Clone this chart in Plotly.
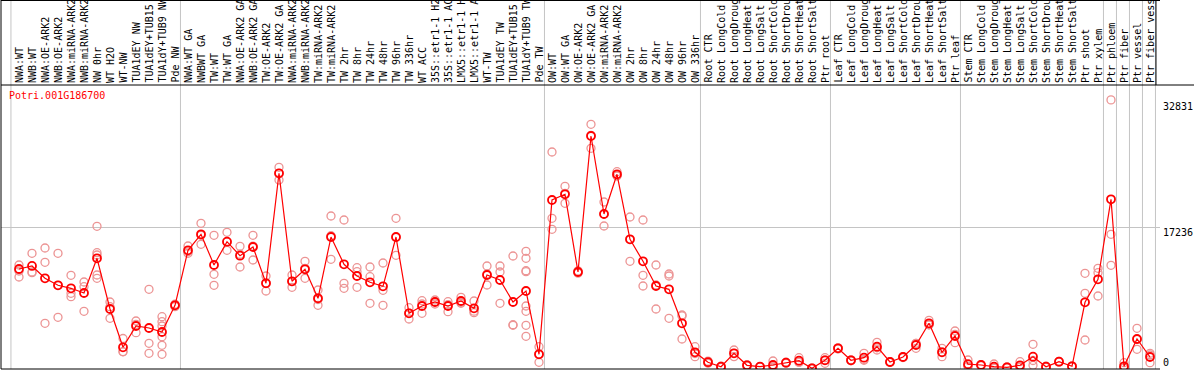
import plotly.graph_objects as go

# ---------------- data ----------------
gene = "Potri.001G186700"

group_nw = ["NWA:WT", "NWB:WT", "NWA:OE-ARK2", "NWB:OE-ARK2", "NWA:miRNA-ARK2",
            "NWB:miRNA-ARK2", "NW 0hr", "WT H2O", "WT-NW", "TUA1dEY NW",
            "TUA1dEY+TUB15 NW", "TUA1dY+TUB9 NW", "Pde NW"]
group_tw = ["NWA:WT GA", "NWBWT GA", "TW:WT", "TW:WT GA", "NWA:OE-ARK2 GA",
            "NWB:OE-ARK2 GA", "TW:OE-ARK2", "TW:OE-ARK2 GA", "NWA:miRNA-ARK2",
            "NWB:miRNA-ARK2", "TW:miRNA-ARK2", "TW:miRNA-ARK2", "TW 2hr", "TW 8hr",
            "TW 24hr", "TW 48hr", "TW 96hr", "TW 336hr", "WT ACC", "35S::etr1-1 H2O",
            "35S::etr1-1 ACC", "LMX5::etr1-1 H2O", "LMX5::etr1-1 ACC", "WT-TW",
            "TUA1dEY TW", "TUA1dEY+TUB15 TW", "TUA1dY+TUB9 TW", "Pde TW"]
group_ow = ["OW:WT", "OW:WT GA", "OW:OE-ARK2", "OW:OE-ARK2 GA", "OW:miRNA-ARK2",
            "OW:miRNA-ARK2", "OW 2hr", "OW 8hr", "OW 24hr", "OW 48hr", "OW 96hr",
            "OW 336hr"]
group_root = ["Root CTR", "Root LongCold", "Root LongDrought", "Root LongHeat",
              "Root LongSalt", "Root ShortCold", "Root ShortDrought", "Root ShortHeat",
              "Root ShortSalt", "Ptr root"]
group_leaf = ["Leaf CTR", "Leaf LongCold", "Leaf LongDrought", "Leaf LongHeat",
              "Leaf LongSalt", "Leaf ShortCold", "Leaf ShortDrought", "Leaf ShortHeat",
              "Leaf ShortSalt", "Ptr leaf"]
group_stem = ["Stem CTR", "Stem LongCold", "Stem LongDrought", "Stem LongHeat",
              "Stem LongSalt", "Stem ShortCold", "Stem ShortDrought", "Stem ShortHeat",
              "Stem ShortSalt", "Ptr shoot", "Ptr xylem"]
group_phloem = ["Ptr phloem"]
group_fiber = ["Ptr fiber"]
group_vessel = ["Ptr vessel"]
group_fv = ["Ptr fiber vessel"]

groups = [group_nw, group_tw, group_ow, group_root, group_leaf, group_stem,
          group_phloem, group_fiber, group_vessel, group_fv]

mean_values = [
    12200, 12570, 11065, 10211, 9845, 9272, 13505, 7320, 2647, 5246, 5002, 4514, 7771,
    14481, 16433, 12688, 15531, 13823, 14884, 10455, 23875, 10699, 12163, 8625, 16104,
    12773, 11346, 10577, 10089, 16104, 6795, 7686, 8174, 7686, 8296, 7405, 11468, 10858,
    8174, 9516, 1793,
    20618, 21313, 11834, 28426, 18910, 23753, 15823, 13139, 10126, 9723, 5575, 2037,
    830, 281, 1915, 451, 281, 488, 769, 1013, 85, 1061,
    2525, 1061, 1379, 2721, 854, 1464, 2928, 5575, 2037, 4026,
    586, 488, 281, 207, 451, 1501, 281, 891, 329, 8137, 10943,
    20703, 329, 3660, 1464,
]

replicates = [
    [12688, 11956, 11224], [14115, 11749, 11834], [14762, 13017, 5575],
    [14115, 6307, 10211], [11431, 9235, 8821], [10614, 10041, 7039],
    [17409, 14189, 13908, 11468, 11065], [8174, 6185, 7600], [3721, 2123, 2100],
    [5856, 4429, 5450], [9723, 3135, 1915], [6381, 5771, 5246, 3941, 2891, 1793],
    [7771, 7600, 7900],
    [15006, 14115, 14300], [17775, 15213, 16311], [16311, 11553, 10211],
    [16677, 14481, 15500], [14969, 12444, 14000], [16311, 13298, 15000],
    [11346, 9516, 10500], [24607, 23058, 23875], [11468, 9967, 10660],
    [13139, 11065, 12280], [9638, 7771, 8470], [18666, 13383, 16260],
    [18178, 10455, 9845], [12359, 11871, 9967], [12444, 11261, 8015],
    [12932, 9601, 7771], [18385, 13871, 16050], [7479, 6100, 6800],
    [8333, 6795, 7930], [8418, 7930, 8174], [8211, 6991, 7860], [8747, 8015, 8130],
    [8296, 6869, 7050], [12566, 10248, 11590], [12566, 11834, 8015],
    [13786, 5405, 5331], [14359, 13505, 11993, 11871, 7686, 7039, 5331, 3989],
    [2721, 817, 1840],
    [26474, 18385, 17043], [22289, 20215, 21430], [11700, 11834, 11970],
    [29853, 26925, 28500], [20374, 17446, 18910], [24071, 23546, 23640],
    [18544, 13139, 15790], [18178, 11431, 10126], [12688, 10248, 7320],
    [11590, 11346, 6185], [6588, 3660, 6480], [2721, 1501, 1890],
    [700, 830, 960], [200, 300, 340], [2318, 1915, 1510], [380, 450, 520],
    [250, 290, 300], [976, 250, 240], [700, 780, 830], [1379, 800, 860],
    [60, 90, 110], [1379, 695, 1100],
    [2450, 2550, 2580], [1000, 1100, 1080], [1915, 1061, 1160], [3257, 2318, 2590],
    [800, 900, 860], [1400, 1500, 1490], [3135, 2525, 3120], [5929, 5400, 5400],
    [2525, 1501, 2080], [4636, 3209, 4230],
    [1098, 350, 310], [420, 500, 540], [610, 120, 110], [150, 220, 250],
    [891, 250, 210], [3013, 451, 1040], [200, 300, 340], [830, 900, 940],
    [280, 330, 380], [11675, 9235, 3538], [12285, 11749, 8906],
    [32831, 16433, 12651], [769, 120, 100], [4965, 2403, 3610], [1915, 769, 1710],
]

right_tick_values = [32831, 17236, 0]
right_tick_text = ["32831", "17236", "0"]
right_tick_anchor = ["top", "middle", "bottom"]
right_tick_shift = [0, -5, 0]

# ---------------- derived ----------------
labels = [lab for g in groups for lab in g]
xs = list(range(len(labels)))
rep_x, rep_y = [], []
for i, reps in enumerate(replicates):
    for v in reps:
        rep_x.append(i)
        rep_y.append(v)

W, H = 1194, 370
ML, MR, MT, MB = 1, 34, 86, 1
plot_h = H - MT - MB
units_per_px = 122.0
FONT = "DejaVu Sans Mono"

fig = go.Figure()
fig.add_trace(go.Scatter(
    x=rep_x, y=rep_y, mode="markers",
    marker=dict(symbol="circle-open", size=8, color="#ec9494",
                line=dict(width=1.3, color="#ec9494")),
    hoverinfo="skip", showlegend=False))
fig.add_trace(go.Scatter(
    x=xs, y=mean_values, mode="lines+markers",
    line=dict(color="#ff0000", width=1.2),
    marker=dict(symbol="circle-open", size=8, color="#ff0000",
                line=dict(width=1.8, color="#ee0000")),
    showlegend=False))

shapes = []
top_paper = (H - MB) / plot_h  # page top in paper coords
# vertical group separators
idx = -1
sep_positions = [idx + 0.38]
for g in groups:
    idx += len(g)
    sep_positions.append(idx + 0.42)
for sx in sep_positions:
    shapes.append(dict(type="line", xref="x", yref="paper", x0=sx, x1=sx,
                       y0=0, y1=top_paper, line=dict(color="#c4c4c4", width=1),
                       layer="below"))

black = dict(color="black", width=1)
y85 = (H - MB - 85) / plot_h
y0line = (H - MB - 0.5) / plot_h
right_box_x = sep_positions[-1] + 0.04
# label box
shapes += [
    dict(type="line", xref="paper", yref="paper", x0=0, x1=(W - ML) / (W - ML - MR),
         y0=y85, y1=y85, line=black),
    dict(type="line", xref="paper", yref="paper", x0=0, x1=1.0, y0=y0line, y1=y0line,
         line=black),
    dict(type="line", xref="x", yref="paper", x0=right_box_x, x1=right_box_x,
         y0=y85, y1=top_paper, line=black),
    dict(type="line", xref="paper", yref="paper", x0=0, x1=0, y0=0, y1=top_paper,
         line=black),
    dict(type="line", xref="paper", yref="paper", x0=0, x1=1, y0=0, y1=0, line=black),
]

annotations = []
for i, lab in enumerate(labels):
    annotations.append(dict(
        x=i, y=1, xref="x", yref="paper", text=lab, textangle=-90,
        showarrow=False, xanchor="center", yanchor="bottom", yshift=2,
        borderpad=0, font=dict(family=FONT, size=10, color="black")))

annotations.append(dict(
    x=0, y=1, xref="paper", yref="paper", text=gene, showarrow=False,
    xanchor="left", yanchor="top", xshift=7, yshift=-3, borderpad=0,
    font=dict(family=FONT, size=10, color="#ff0000")))

for v, t, a, s in zip(right_tick_values, right_tick_text, right_tick_anchor, right_tick_shift):
    annotations.append(dict(
        x=1, y=v, xref="paper", yref="y", text=t, showarrow=False,
        xanchor="left", yanchor=a, xshift=2, yshift=s, borderpad=0,
        font=dict(family=FONT, size=10, color="black")))

fig.update_layout(
    width=W, height=H,
    margin=dict(l=ML, r=MR, t=MT, b=MB, pad=0),
    paper_bgcolor="white", plot_bgcolor="white",
    xaxis=dict(range=[-18 / 13, -18 / 13 + (W - ML - MR) / 13], showgrid=False,
               zeroline=False, showticklabels=False, showline=False, ticks=""),
    yaxis=dict(range=[0, plot_h * units_per_px], tickvals=[17236], showgrid=True,
               gridcolor="#c4c4c4", gridwidth=1, zeroline=False,
               showticklabels=False, showline=False, ticks=""),
    shapes=shapes, annotations=annotations,
    font=dict(family=FONT, size=10),
    showlegend=False,
)

fig.write_html("out.html", include_plotlyjs=True,
               config={"displayModeBar": False, "responsive": False},
               post_script="document.body.style.margin='0';document.body.style.overflow='hidden';")
